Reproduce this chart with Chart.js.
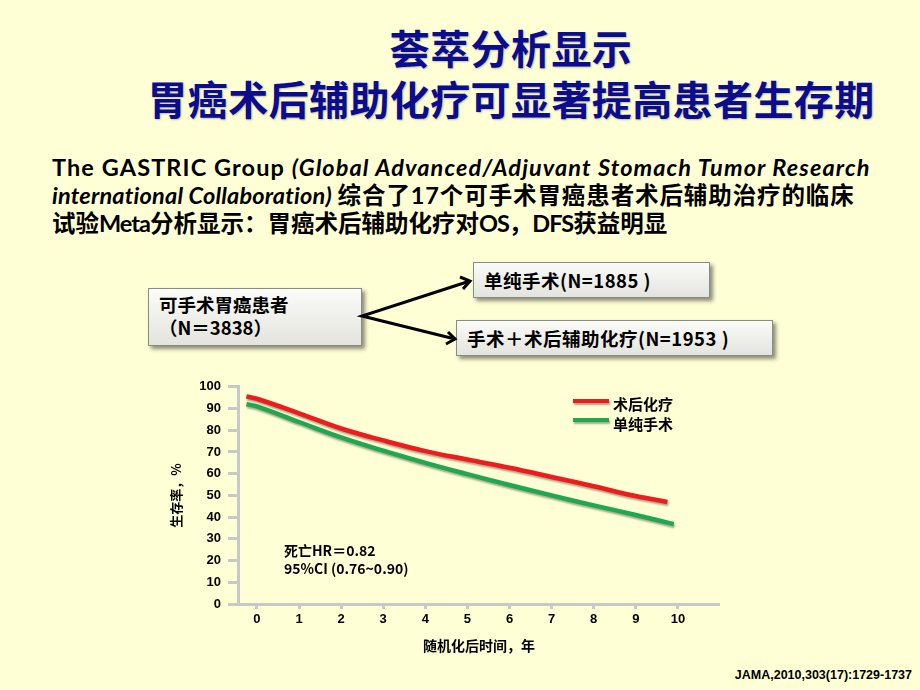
<!DOCTYPE html>
<html>
<head>
<meta charset="utf-8">
<script src="https://cdn.jsdelivr.net/npm/chart.js@4"></script>
<style>
  body { margin: 0; background: #FFFFD6; }
  #page { position: relative; width: 920px; height: 690px; overflow: hidden; background: #FFFFD6;
          font-family: "Noto Sans CJK SC", "Liberation Sans", sans-serif; }
  .title { position: absolute; left: 0; width: 1022px; text-align: center; color: #0c0c8e;
           font-size: 40px; font-weight: 700; line-height: 1; letter-spacing: 0.4px;
           text-shadow: 1px 1px 2px rgba(0,0,0,0.25); white-space: nowrap; }
  .para { position: absolute; left: 52px; font-size: 23.5px; font-weight: 700; color: #000; white-space: nowrap;
          font-family: "Lato", "Noto Sans CJK SC", sans-serif; line-height: 1; }
  .para i { font-weight: 700; }
  .box { position: absolute; border: 1px solid #8a8a8a; background: linear-gradient(#fbfbf7, #e4e4df);
         box-shadow: 3px 3px 4px rgba(0,0,0,0.45); font-weight: 700; font-size: 18.5px; color: #000; white-space: nowrap;
         font-family: "Noto Sans CJK SC", sans-serif; }
  .box span { position: absolute; left: 10px; }
  .legend-line { position: absolute; width: 36px; height: 4px; box-shadow: 1px 2px 2px rgba(0,0,0,0.35); }
  .legend-text { position: absolute; font-size: 15px; font-weight: 700; font-family: "Noto Sans CJK SC", sans-serif; }
  .note { position: absolute; left: 284px; font-size: 14px; font-weight: 700; font-family: "Noto Sans CJK SC", sans-serif; line-height: 1; }
  #chartWrap { position: absolute; left: 150px; top: 372px; width: 570px; height: 290px; }
  #footer { position: absolute; right: 8px; top: 668px; font-size: 12.5px; font-weight: 700; font-family: "Liberation Sans", sans-serif; }
</style>
</head>
<body>
<div id="page">
  <div class="title" style="top:27px;">荟萃分析显示</div>
  <div class="title" style="top:78px;">胃癌术后辅助化疗可显著提高患者生存期</div>

  <div class="para" style="top:156px; letter-spacing:1.1px;">The GASTRIC Group <i>(Global Advanced/Adjuvant Stomach Tumor Research</i></div>
  <div class="para" style="top:184px;"><i style="letter-spacing:0.2px;">international Collaboration)</i> <span style="letter-spacing:0.9px;">综合了17个可手术胃癌患者术后辅助治疗的临床</span></div>
  <div class="para" style="top:212px;">试验<span style="letter-spacing:-1px;">Meta</span>分析显示：胃癌术后辅助化疗对<span style="letter-spacing:-1px;">OS</span>，<span style="letter-spacing:-1px;">DFS</span>获益明显</div>

  <div class="box" style="left:148px; top:288px; width:212px; height:56px;">
    <span style="top:2px;">可手术胃癌患者</span>
    <span style="top:25px;">（N＝3838）</span>
  </div>
  <div class="box" style="left:473px; top:262px; width:235px; height:34px;">
    <span style="top:4px; letter-spacing:0.5px;">单纯手术(N=1885 )</span>
  </div>
  <div class="box" style="left:456px; top:320px; width:315px; height:34px;">
    <span style="top:4px; letter-spacing:0.5px;">手术＋术后辅助化疗(N=1953 )</span>
  </div>
  <svg style="position:absolute; left:0; top:0;" width="920" height="690">
    <polyline points="470,281 362,316 455,339" fill="none" stroke="#000" stroke-width="3" stroke-linejoin="miter"/>
    <path d="M460,277 L470,281 L463,289" fill="none" stroke="#000" stroke-width="3"/>
    <path d="M448,332 L455,339 L446,344" fill="none" stroke="#000" stroke-width="3"/>
  </svg>

  <div id="chartWrap"><canvas id="survivalChart" width="570" height="290"></canvas></div>

  <div class="legend-line" style="left:573px; top:399px; background:#ee1c1c;"></div>
  <div class="legend-text" style="left:613px; top:393px;">术后化疗</div>
  <div class="legend-line" style="left:573px; top:418px; background:#1fa84f;"></div>
  <div class="legend-text" style="left:613px; top:413px;">单纯手术</div>

  <div class="note" style="top:543px;">死亡HR＝0.82</div>
  <div class="note" style="top:561px;">95%CI (0.76~0.90)</div>

  <div id="footer">JAMA,2010,303(17):1729-1737</div>
</div>

<script>
// 随机化后时间（年）与生存率（%）
const chemoYears = [-0.25, 0, 1, 2, 3, 4, 5, 6, 7, 8, 9, 9.75];
const chemoSurvival = [95.5, 94.5, 87.8, 80.8, 75.3, 70.4, 66.5, 62.7, 58.5, 54.2, 49.7, 47];
const surgeryYears = [-0.25, 0, 1, 2, 3, 4, 5, 6, 7, 8, 9, 9.9];
const surgerySurvival = [92, 91, 83.8, 76.7, 70.6, 65, 59.8, 54.8, 50, 45.4, 41, 36.8];
const xTickValues = [0, 1, 2, 3, 4, 5, 6, 7, 8, 9, 10];
const seriesLabels = ['术后化疗', '单纯手术'];

const toPoints = (xs, ys) => xs.map((x, i) => ({ x: x, y: ys[i] }));

// 线条下的阴影
const lineShadow = {
    id: 'lineShadow',
    beforeDatasetsDraw(chart) {
        const ctx = chart.ctx;
        ctx.save();
        ctx.shadowColor = 'rgba(0,0,0,0.35)';
        ctx.shadowOffsetX = 1;
        ctx.shadowOffsetY = 2;
        ctx.shadowBlur = 2;
    },
    afterDatasetsDraw(chart) {
        chart.ctx.restore();
    }
};

const axisFont = { family: '"Liberation Sans", sans-serif', size: 13, weight: 'bold' };

new Chart(document.getElementById('survivalChart').getContext('2d'), {
    type: 'line',
    data: {
        datasets: [{
            label: seriesLabels[0],
            data: toPoints(chemoYears, chemoSurvival),
            borderColor: '#ee1c1c',
            borderWidth: 4.5,
            pointRadius: 0,
            tension: 0.4,
            fill: false
        }, {
            label: seriesLabels[1],
            data: toPoints(surgeryYears, surgerySurvival),
            borderColor: '#1fa84f',
            borderWidth: 4.5,
            pointRadius: 0,
            tension: 0.4,
            fill: false
        }]
    },
    options: {
        responsive: false,
        animation: false,
        layout: { padding: { top: 0, right: 0 } },
        plugins: { legend: { display: false }, tooltip: { enabled: false } },
        scales: {
            x: {
                type: 'linear',
                min: -0.45,
                max: 11,
                afterBuildTicks: scale => { scale.ticks = xTickValues.map(v => ({ value: v })); },
                afterFit: scale => { scale.height = 58; },
                ticks: { color: '#000', font: axisFont, padding: 3 },
                grid: { drawOnChartArea: false, color: '#c8c8c8', tickLength: 5, lineWidth: 3 },
                border: { color: '#c8c8c8', width: 3 },
                title: {
                    display: true, text: '随机化后时间，年', color: '#000',
                    font: { family: '"Noto Sans CJK SC", sans-serif', size: 14, weight: 'bold' },
                    padding: { top: 0, bottom: 8 }
                }
            },
            y: {
                min: 0,
                max: 100,
                ticks: { stepSize: 10, color: '#000', font: axisFont, padding: 7 },
                afterFit: scale => { scale.width = 88; },
                grid: { drawOnChartArea: false, color: '#c8c8c8', tickLength: 10, lineWidth: 3 },
                border: { color: '#c8c8c8', width: 3 },
                title: {
                    display: true, text: '生存率，%', color: '#000',
                    font: { family: '"Noto Sans CJK SC", sans-serif', size: 13, weight: 'bold' },
                    padding: { top: 18, bottom: 0 }
                }
            }
        }
    },
    plugins: [lineShadow]
});
</script>
</body>
</html>
